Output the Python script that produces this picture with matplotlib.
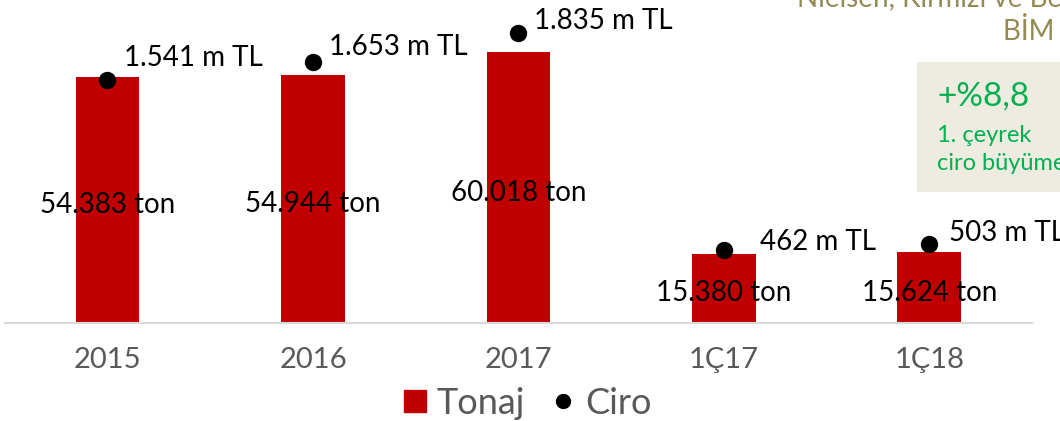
import matplotlib
matplotlib.use("Agg")
import matplotlib.pyplot as plt
from matplotlib.lines import Line2D
from matplotlib.patches import Rectangle

# --- veriler ---
kategoriler = ["2015", "2016", "2017", "1Ç17", "1Ç18"]
tonaj = [54383, 54944, 60018, 15380, 15624]      # ton
ciro = [1541, 1653, 1835, 462, 503]              # milyon TL
tonaj_etiket = ["54.383 ton", "54.944 ton", "60.018 ton", "15.380 ton", "15.624 ton"]
ciro_etiket = ["1.541 m TL", "1.653 m TL", "1.835 m TL", "462 m TL", "503 m TL"]

# ciro etiketlerinin noktaya göre kayması (piksel)
ciro_kayma = [(17, 22), (16, 15), (16, 12), (36, 8), (20, 11)]

KIRMIZI = "#C00000"
GRI = "#595959"
YESIL = "#00B050"
ZEYTIN = "#948A54"

plt.rcParams['font.family'] = ['Lato', 'DejaVu Sans']

fig = plt.figure(figsize=(10.6, 4.21), dpi=100)
ax = fig.add_axes([0.0045, 0.2328, 0.9691, 0.7506])

x = list(range(len(kategoriler)))
ax.bar(x, tonaj, width=0.31, color=KIRMIZI, zorder=2)
ax.set_xlim(-0.5, 4.5)
ax.set_ylim(0, 70000)

# tonaj etiketleri çubuğun ortasında
for xi, v, t in zip(x, tonaj, tonaj_etiket):
    ax.annotate(t, (xi, v / 2), xytext=(0, -5), textcoords='offset pixels',
                ha='center', va='center', fontsize=20, color='black', zorder=3)

for s in ['top', 'right', 'left']:
    ax.spines[s].set_visible(False)
ax.spines['bottom'].set_color('#D9D9D9')
ax.spines['bottom'].set_linewidth(1.5)
ax.set_yticks([])
ax.set_xticks(x)
ax.set_xticklabels(kategoriler)
ax.tick_params(axis='x', length=0, pad=17, labelsize=21, labelcolor=GRI)

# ikinci eksen: ciro
ax2 = ax.twinx()
ax2.plot(x, ciro, 'o', color='black', markersize=11.5, linestyle='none')
ax2.set_ylim(0, 2000)
ax2.set_yticks([])
for s in ax2.spines.values():
    s.set_visible(False)

for xi, v, t, (dx, dy) in zip(x, ciro, ciro_etiket, ciro_kayma):
    ax2.annotate(t, (xi, v), xytext=(dx, dy), textcoords='offset pixels',
                 ha='left', va='center', fontsize=20, color='black',
                 annotation_clip=False)

# lejant
tutamaklar = [
    Line2D([], [], marker='s', color=KIRMIZI, linestyle='none', markersize=16, label='Tonaj'),
    Line2D([], [], marker='o', color='black', linestyle='none', markersize=10, label='Ciro'),
]
leg = fig.legend(handles=tutamaklar, loc='center', bbox_to_anchor=(527 / 1060, 1 - 403 / 421),
                 ncol=2, frameon=False, fontsize=26, handlelength=0.7, handletextpad=0.25,
                 columnspacing=0.7, borderaxespad=0, borderpad=0)
for t in leg.get_texts():
    t.set_color(GRI)

# sağ üst: başlık parçası ve kutu
fig.text(797 / 1060, 1 - 7 / 421, "Nielsen, Kırmızı ve Beyaz Et", ha='left', va='baseline',
         fontsize=20, color=ZEYTIN)
fig.text(1003 / 1060, 1 - 40 / 421, "BİM Payı", ha='left', va='baseline',
         fontsize=20, color=ZEYTIN)

fig.patches.append(Rectangle((917 / 1060, 1 - 192 / 421), 0.2, 130 / 421,
                             transform=fig.transFigure, facecolor='#EEECE1',
                             edgecolor='none', zorder=0))
fig.text(937 / 1060, 1 - 97 / 421, "+%8,8", ha='left', va='center', fontsize=24, color=YESIL)
fig.text(937 / 1060, 1 - 135 / 421, "1. çeyrek", ha='left', va='center', fontsize=17, color=YESIL)
fig.text(937 / 1060, 1 - 163 / 421, "ciro büyümesi", ha='left', va='center', fontsize=17, color=YESIL)

fig.savefig("out.png", dpi=100)
